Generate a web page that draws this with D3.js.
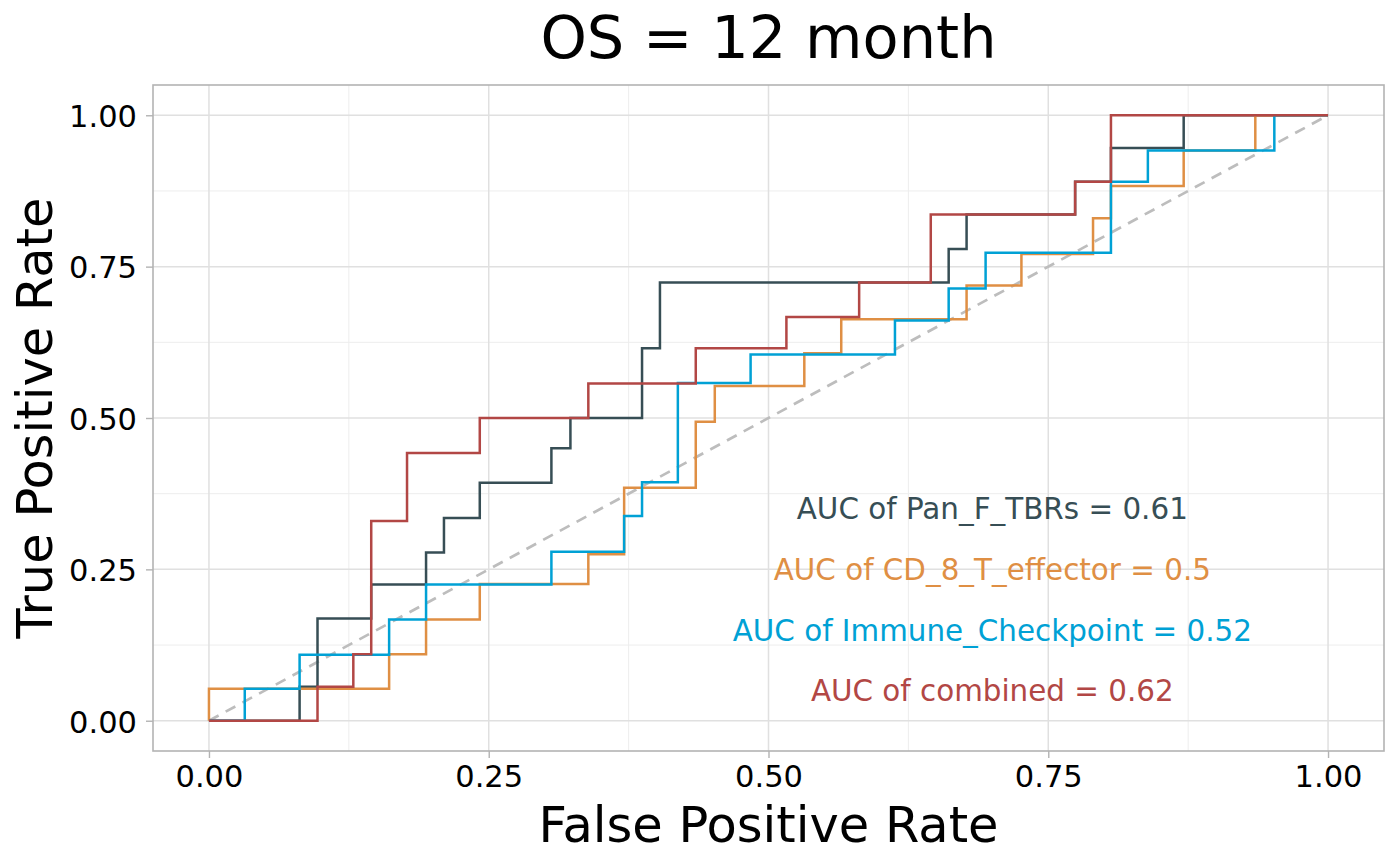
<!DOCTYPE html>
<meta charset="utf-8">
<script src="https://cdn.jsdelivr.net/npm/d3@7"></script>
<style>
    body { margin: 0; background: #fff; }
    text { font-family: "DejaVu Sans", sans-serif; }
</style>
<body>
<svg width="1400" height="866"></svg>
</body>
<script>

    // ROC step points (fpr, tpr)
    var panFpr  = [0, 0.081, 0.097, 0.145, 0.194, 0.210, 0.242, 0.306, 0.323, 0.387, 0.403, 0.661, 0.677, 0.774, 0.806, 0.871, 1.0];
    var panTpr  = [0, 0.056, 0.169, 0.225, 0.278, 0.335, 0.393, 0.450, 0.500, 0.615, 0.724, 0.779, 0.836, 0.890, 0.946, 1.0, 1.0];

    var cd8Fpr  = [0, 0, 0.161, 0.194, 0.242, 0.339, 0.371, 0.435, 0.452, 0.532, 0.565, 0.677, 0.726, 0.790, 0.806, 0.871, 0.935, 1.0];
    var cd8Tpr  = [0, 0.053, 0.110, 0.167, 0.226, 0.275, 0.385, 0.494, 0.553, 0.607, 0.663, 0.719, 0.771, 0.830, 0.883, 0.942, 1.0, 1.0];

    var immFpr  = [0, 0.032, 0.081, 0.161, 0.194, 0.306, 0.371, 0.387, 0.419, 0.484, 0.613, 0.661, 0.694, 0.806, 0.839, 0.952, 1.0];
    var immTpr  = [0, 0.053, 0.109, 0.167, 0.225, 0.279, 0.338, 0.394, 0.558, 0.605, 0.661, 0.714, 0.773, 0.890, 0.942, 1.0, 1.0];

    var combFpr = [0, 0.097, 0.129, 0.145, 0.177, 0.242, 0.339, 0.435, 0.516, 0.581, 0.645, 0.774, 0.806, 1.0];
    var combTpr = [0, 0.056, 0.110, 0.330, 0.442, 0.500, 0.557, 0.615, 0.667, 0.724, 0.836, 0.890, 1.0, 1.0];

    var seriesNames = ["Pan_F_TBRs", "CD_8_T_effector", "Immune_Checkpoint", "combined"];
    var aucValues   = ["0.61", "0.5", "0.52", "0.62"];
    var labelY      = [0.35, 0.25, 0.15, 0.05];
    var ticks       = [0, 0.25, 0.5, 0.75, 1];
    var minorTicks  = [0.125, 0.375, 0.625, 0.875];

    // jama palette
    var colors = ["#374E55", "#DF8F44", "#00A1D5", "#B24745"];

    var svg = d3.select("svg");
    // panel edges (px)
    var pLeft = 153, pRight = 1384, pTop = 85, pBottom = 751;

    var x = d3.scaleLinear().domain([-0.05, 1.05]).range([pLeft, pRight]);
    var y = d3.scaleLinear().domain([-0.05, 1.05]).range([pBottom, pTop]);

    var series = [
        {fpr: panFpr, tpr: panTpr},
        {fpr: cd8Fpr, tpr: cd8Tpr},
        {fpr: immFpr, tpr: immTpr},
        {fpr: combFpr, tpr: combTpr}
    ];

    //网格
    var grid = svg.append("g");
    grid.selectAll(".minx").data(minorTicks).enter().append("line")
        .attr("x1", d => x(d)).attr("x2", d => x(d)).attr("y1", pTop).attr("y2", pBottom)
        .attr("stroke", "#EDEDED").attr("stroke-width", 1);
    grid.selectAll(".miny").data(minorTicks).enter().append("line")
        .attr("y1", d => y(d)).attr("y2", d => y(d)).attr("x1", pLeft).attr("x2", pRight)
        .attr("stroke", "#EDEDED").attr("stroke-width", 1);
    grid.selectAll(".majx").data(ticks).enter().append("line")
        .attr("x1", d => x(d)).attr("x2", d => x(d)).attr("y1", pTop).attr("y2", pBottom)
        .attr("stroke", "#E0E0E0").attr("stroke-width", 1.5);
    grid.selectAll(".majy").data(ticks).enter().append("line")
        .attr("y1", d => y(d)).attr("y2", d => y(d)).attr("x1", pLeft).attr("x2", pRight)
        .attr("stroke", "#E0E0E0").attr("stroke-width", 1.5);

    // 对角线
    svg.append("line")
        .attr("x1", x(0)).attr("y1", y(0)).attr("x2", x(1)).attr("y2", y(1))
        .attr("stroke", "#BDBDBD").attr("stroke-width", 2.7)
        .attr("stroke-dasharray", "11,8");

    var line = d3.line()
        .x(d => x(d[0]))
        .y(d => y(d[1]))
        .curve(d3.curveStepAfter);

    svg.append("g").selectAll("path")
        .data(series)
        .enter()
        .append("path")
        .attr("fill", "none")
        .attr("stroke", (d, i) => colors[i])
        .attr("stroke-width", 2.5)
        .attr("d", d => line(d.fpr.map((v, j) => [v, d.tpr[j]])));

    // AUC text
    svg.append("g").selectAll("text")
        .data(seriesNames)
        .enter()
        .append("text")
        .attr("x", x(0.7))
        .attr("y", (d, i) => y(labelY[i]) + 10.6)
        .attr("text-anchor", "middle")
        .style("font-size", "29.4px")
        .attr("fill", (d, i) => colors[i])
        .text((d, i) => "AUC of " + d + " = " + aucValues[i]);

    // 边框
    svg.append("rect")
        .attr("x", pLeft).attr("y", pTop)
        .attr("width", pRight - pLeft).attr("height", pBottom - pTop)
        .attr("fill", "none").attr("stroke", "#B3B3B3").attr("stroke-width", 1.6);

    // axes
    var xAxis = d3.axisBottom(x).tickValues(ticks).tickFormat(d3.format(".2f")).tickSize(7).tickPadding(8);
    var yAxis = d3.axisLeft(y).tickValues(ticks).tickFormat(d3.format(".2f")).tickSize(7).tickPadding(8);

    var gx = svg.append("g").attr("transform", "translate(0," + pBottom + ")").call(xAxis);
    var gy = svg.append("g").attr("transform", "translate(" + pLeft + ",0)").call(yAxis);
    [gx, gy].forEach(function (g) {
        g.select(".domain").remove();
        g.selectAll(".tick line").attr("stroke", "#B3B3B3").attr("stroke-width", 1.4);
        g.selectAll(".tick text").attr("fill", "#000").style("font-size", "30.5px")
            .style("font-family", "DejaVu Sans");
    });
    gx.selectAll(".tick text").attr("dy", null).attr("y", 36);
    gy.selectAll(".tick text").attr("dy", "0.37em").attr("x", -16);

    // titles
    svg.append("text")
        .attr("x", (pLeft + pRight) / 2).attr("y", 58)
        .attr("text-anchor", "middle")
        .style("font-size", "59px")
        .text("OS = 12 month");

    svg.append("text")
        .attr("x", (pLeft + pRight) / 2).attr("y", 842)
        .attr("text-anchor", "middle")
        .style("font-size", "49.5px")
        .text("False Positive Rate");

    svg.append("text")
        .attr("transform", "translate(52," + ((pTop + pBottom) / 2) + ") rotate(-90)")
        .attr("text-anchor", "middle")
        .style("font-size", "49.5px")
        .text("True Positive Rate");

</script>
